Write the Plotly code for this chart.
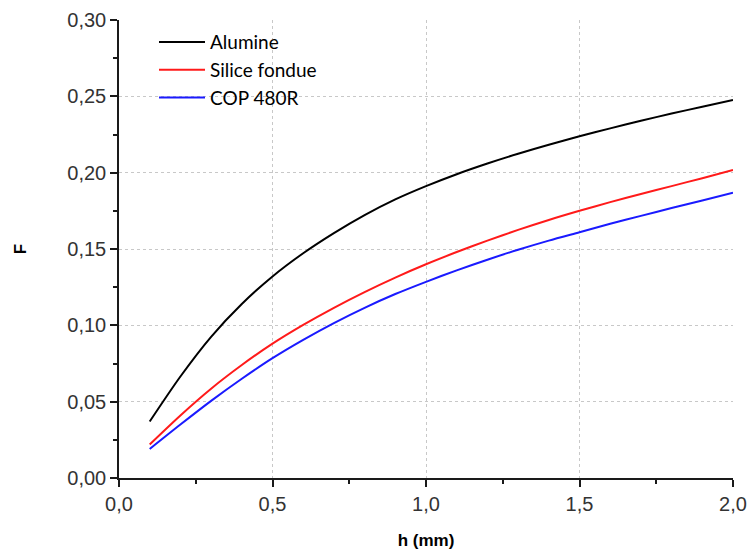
import plotly.graph_objects as go

h = [0.1, 0.2, 0.3, 0.4, 0.5, 0.6, 0.7, 0.8, 0.9, 1.0,
     1.1, 1.2, 1.3, 1.4, 1.5, 1.6, 1.7, 1.8, 1.9, 2.0]

alumine = [0.037, 0.0665, 0.0925, 0.114, 0.132, 0.1472, 0.1604, 0.1722, 0.1825, 0.1912,
           0.199, 0.206, 0.2124, 0.2183, 0.2238, 0.229, 0.234, 0.2387, 0.2432, 0.2476]
silice = [0.022, 0.041, 0.0585, 0.074, 0.088, 0.1003, 0.1115, 0.1218, 0.1313, 0.140,
          0.148, 0.1555, 0.1625, 0.169, 0.175, 0.1807, 0.186, 0.1912, 0.1964, 0.2017]
cop = [0.019, 0.035, 0.0505, 0.065, 0.0785, 0.0905, 0.1015, 0.1115, 0.1205, 0.1285,
       0.136, 0.143, 0.1495, 0.1555, 0.161, 0.1665, 0.1717, 0.1768, 0.1818, 0.1868]

names = ["Alumine", "Silice fondue", "COP 480R"]
colors = ["#000000", "#ff1a1a", "#1a1aff"]

fig = go.Figure()
for name, ys, c in zip(names, [alumine, silice, cop], colors):
    fig.add_trace(go.Scatter(x=h, y=ys, mode="lines", name=name,
                             line=dict(color=c, width=2, shape="spline",
                                       smoothing=0.8)))

axis_common = dict(
    showline=True, linecolor="#1a1a1a", linewidth=1.5,
    ticks="outside", ticklen=7, tickwidth=1.5, tickcolor="#1a1a1a",
    showgrid=True, gridcolor="#c8c8c8", gridwidth=1, griddash="dot",
    zeroline=False, automargin=False,
    tickfont=dict(family="Liberation Sans, Arial", size=20, color="#333333"),
)

fig.update_xaxes(range=[0, 2.0], dtick=0.5, tick0=0, tickformat=".1f",
                 minor=dict(ticks="outside", ticklen=4, tickwidth=1.5,
                            tickcolor="#1a1a1a", dtick=0.25, showgrid=False),
                 title=dict(text="h (mm)", standoff=20,
                            font=dict(family="Liberation Sans, Arial", size=17,
                                      color="#000000", weight="bold")),
                 **axis_common)
fig.update_yaxes(range=[0, 0.30], dtick=0.05, tick0=0, tickformat=".2f",
                 minor=dict(ticks="outside", ticklen=4, tickwidth=1.5,
                            tickcolor="#1a1a1a", dtick=0.025, showgrid=False),
                 title=dict(text="F", standoff=36,
                            font=dict(family="Liberation Sans, Arial", size=17,
                                      color="#000000", weight="bold")),
                 **axis_common)

fig.update_layout(
    width=750, height=552,
    margin=dict(l=119, r=17, t=20, b=74),
    paper_bgcolor="white", plot_bgcolor="white",
    separators=", ",
    showlegend=True,
    legend=dict(x=0.057, y=0.993, xanchor="left", yanchor="top",
                bgcolor="rgba(0,0,0,0)", borderwidth=0,
                itemwidth=46,
                font=dict(family="Lato", size=19, color="#000000")),
)

fig.write_html("out.html", config={"displayModeBar": False},
               post_script="document.body.style.margin='0';document.body.style.overflow='hidden';")
